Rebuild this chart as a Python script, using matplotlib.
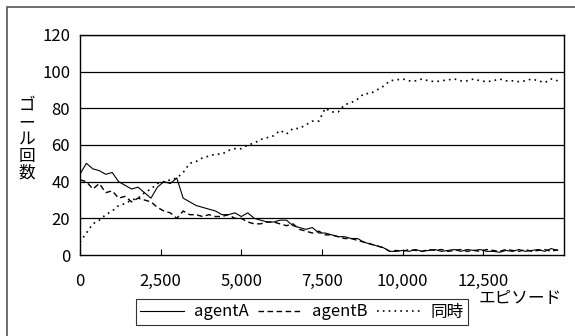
import numpy as np
import matplotlib.pyplot as plt
from matplotlib.patches import Rectangle

plt.rcParams['font.family'] = ['Noto Sans CJK JP', 'DejaVu Sans']

episodes = list(range(0, 15000, 200))

agent_a = [44, 50, 47, 46, 44, 45, 40, 38, 36, 37,
           34, 31, 37, 40, 39, 42, 31, 29, 27, 26,
           25, 24, 22, 22, 23, 21, 23, 20, 19, 18,
           18, 19, 19, 16, 15, 14, 15, 12, 12, 11,
           10, 10, 9, 9, 7, 6, 5, 4, 2, 2,
           2.5, 2, 3, 2, 2.5, 3, 2, 2.5, 3, 2,
           3, 2.5, 3, 2, 2, 1.5, 2.5, 2, 3, 2,
           2.5, 3, 2, 3.5, 2.5]

agent_b = [41, 40, 36, 39, 34, 35, 31, 32, 29, 31,
           30, 29, 26, 24, 23, 20, 24, 22, 22, 21,
           22, 21, 21, 22, 20, 20, 18, 17, 17, 18,
           18, 17, 16, 17, 14, 13, 12, 13, 11, 11,
           10, 9, 9, 8, 7, 6, 5, 4, 2, 2.5,
           2, 3, 2.5, 2, 3, 2.5, 3, 2, 2.5, 3,
           2, 2.5, 2, 3, 2.5, 2, 3, 2.5, 2, 3,
           2, 2.5, 3, 2, 3]

both = [7, 12, 17, 19, 22, 24, 27, 28, 30, 31,
        34, 36, 39, 40, 41, 42, 45, 50, 51, 53,
        54, 55, 55, 57, 58, 58, 60, 61, 63, 64,
        65, 68, 66, 69, 69, 71, 73, 73, 80, 78,
        78, 82, 83, 85, 88, 88, 90, 92, 95, 95.5,
        96, 95, 95, 96, 95, 94.5, 95, 95.5, 96, 95,
        95, 96, 95, 94.5, 95, 96, 95, 95, 94.5, 95,
        96, 95, 94, 96, 95]

x_ticks = [0, 2500, 5000, 7500, 10000, 12500]
x_tick_labels = ['0', '2,500', '5,000', '7,500', '10,000', '12,500']
y_ticks = [0, 20, 40, 60, 80, 100, 120]

fig = plt.figure(figsize=(5.75, 3.36), dpi=100)
ax = fig.add_axes([0.139, 0.241, 0.842, 0.655])

# outer chart frame
fig.patches.append(Rectangle((7 / 575, -0.1), 1.2, 1 - 7 / 336 + 0.1,
                             transform=fig.transFigure, fill=False,
                             edgecolor='#555555', linewidth=1.2))

for y in y_ticks[1:]:
    ax.axhline(y, color='black', linewidth=0.9, zorder=1)

ax.plot(episodes, agent_a, color='black', linewidth=0.8, label='agentA', zorder=3)
ax.plot(episodes, agent_b, color='black', linewidth=1.0, linestyle=(0, (4, 2.5)),
        label='agentB', zorder=3)
ax.plot(episodes, both, color='black', linewidth=1.2, linestyle=(0, (1, 2.5)),
        label='同時', zorder=3)

ax.set_xlim(0, 15000)
ax.set_ylim(0, 120)
ax.set_xticks(x_ticks)
ax.set_xticklabels(x_tick_labels, fontsize=12)
ax.set_yticks(y_ticks)
ax.set_yticklabels([str(v) for v in y_ticks], fontsize=12)
ax.tick_params(axis='x', direction='in', length=4, width=0.8, pad=13)
ax.tick_params(axis='y', length=0, pad=7)
for side in ['left', 'bottom', 'right', 'top']:
    ax.spines[side].set_linewidth(1.0)
    ax.spines[side].set_color('black')

fig.text(27 / 575, 0.585, '\n'.join('ゴール回数'), fontsize=12,
         ha='center', va='center', linespacing=1.0)
fig.text(520 / 575, 1 - 298 / 336, 'エピソード', fontsize=12, ha='center', va='center')

leg = ax.legend(loc='center', bbox_to_anchor=(302 / 575, 1 - 312 / 336),
                bbox_transform=fig.transFigure, ncol=3, fontsize=12,
                frameon=True, fancybox=False, handlelength=2.6,
                handletextpad=0.6, columnspacing=0.6, borderpad=0.25)
leg.get_frame().set_edgecolor('black')
leg.get_frame().set_linewidth(0.8)

fig.savefig('out.png', dpi=100)
